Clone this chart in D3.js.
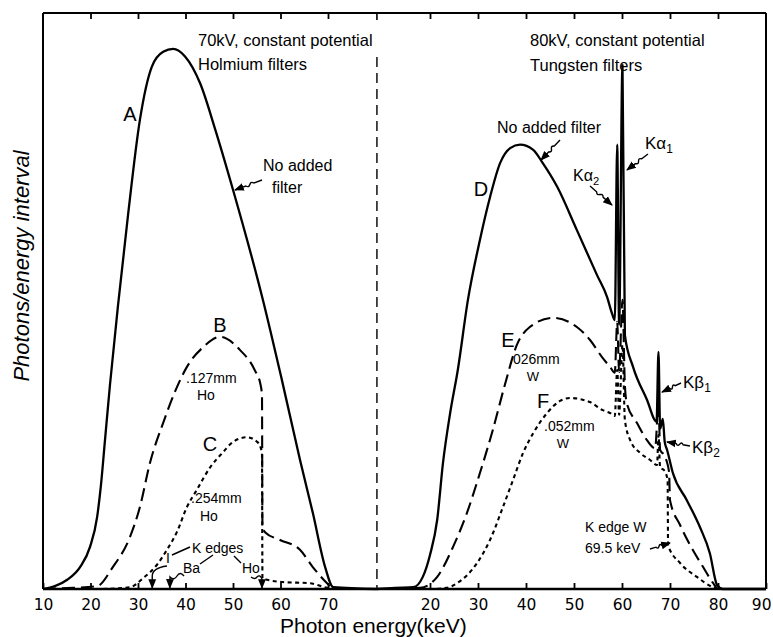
<!DOCTYPE html>
<html><head><meta charset="utf-8">
<script src="https://cdn.jsdelivr.net/npm/d3@7"></script>
<style>body{margin:0;background:#fff}svg{display:block}text{fill:#000}</style>
</head><body><svg id="c" width="773" height="637"></svg>
<script>
// ---------------- data ----------------
const leftTicks = [10, 20, 30, 40, 50, 60, 70];
const rightTicks = [20, 30, 40, 50, 60, 70, 80, 90];
const leftTopTicks = [20, 30, 40, 50, 60, 70];
const rightTopTicks = [20, 30, 40, 50, 60, 70, 80];
const leftPanelMax = 80.3;   // keV where left panel ends (dashed divider)
const rightPanelMin = 8.96;  // keV where right panel starts

// Left panel: 70 kV, holmium filters
const aKeV = [10, 12.5, 15.1, 17.8, 19.9, 21.4, 22.2, 23.05, 24.1, 25.8, 27.9, 30.4, 32.9, 35.3, 37.4, 39.9, 43.1, 46.2, 50.0, 56.3, 60.3, 64.1, 66.8, 69.4, 71.1, 80.3];
const aVal = [0, 0.5, 1.6, 3.8, 7.3, 12.5, 18.0, 25.8, 35.4, 49.2, 64.8, 81.3, 90.5, 93.1, 93.6, 92.3, 87.6, 79.8, 69.2, 50.1, 36.2, 22.4, 13.2, 3.8, 0.3, 0];

const bKeV = [10, 16.3, 21.4, 24.7, 28.3, 30.4, 32.5, 35.3, 38.2, 40.3, 43.7, 47.3, 51.5, 54.6, 55.8, 56.1, 56.2, 56.8, 59.9, 64.1, 66.8, 69.8, 71.1, 80.3];
const bVal = [0, 0.2, 0.5, 3.8, 9.0, 14.2, 21.8, 28.8, 35.0, 38.5, 41.9, 43.7, 41.4, 37.9, 35.4, 33.6, 10.7, 9.8, 8.5, 6.8, 3.8, 1.0, 0, 0];

const cKeV = [10, 21.4, 28.3, 31.1, 34.0, 36.1, 38.2, 40.3, 42.4, 45.2, 47.9, 50.0, 52.9, 55.1, 56.1, 56.2, 57.2, 60.5, 66.2, 69.8, 71.1, 80.3];
const cVal = [0, 0, 0.3, 1.9, 4.2, 6.8, 9.9, 14.2, 17.2, 21.1, 23.7, 25.5, 26.3, 25.5, 23.7, 1.9, 1.6, 1.2, 1.0, 0.2, 0, 0];

// Right panel: 80 kV, tungsten filters
const dKeV = [8.96, 12.7, 16.5, 18.5, 20.0, 21.5, 22.7, 24.2, 25.8, 27.9, 30.4, 32.5, 34.6, 36.7, 38.75, 41.5, 43.5, 46.5, 50.6, 54.8, 56.9, 57.9, 58.5, 59.0, 59.4, 60.1, 60.6, 62.3, 65.2, 67.2, 67.6, 67.95, 68.5, 68.9, 69.4, 70.6, 73.5, 76.25, 78.3, 79.8, 81.0, 90];
const dVal = [0, 0.2, 0.3, 2.1, 5.9, 12.0, 21.8, 30.5, 38.0, 50.1, 60.5, 67.9, 73.8, 76.4, 77.0, 76.1, 73.8, 69.7, 62.2, 54.4, 50.6, 47.8, 46.6, 77.0, 45.8, 90.8, 44.0, 38.5, 32.8, 29.0, 41.1, 27.8, 29.5, 25.5, 24.1, 20.1, 15.4, 10.7, 6.2, 0.7, 0, 0];

const eKeV = [8.96, 17.9, 21.5, 24.8, 27.7, 30.4, 33.1, 35.6, 38.1, 40.8, 45.6, 50.6, 53.3, 56.0, 57.5, 58.5, 59.0, 59.4, 60.1, 60.6, 61.0, 63.1, 65.2, 66.9, 67.6, 67.95, 68.75, 69.8, 70.0, 72.1, 74.2, 76.9, 79.0, 80.0, 90];
const eVal = [0, 0.2, 2.1, 7.3, 13.2, 20.1, 27.6, 35.4, 42.3, 45.4, 47.0, 45.4, 43.2, 40.0, 38.5, 37.5, 46.3, 37.6, 50.1, 35.4, 32.2, 28.8, 25.8, 24.4, 31.9, 24.1, 23.2, 20.3, 15.4, 11.1, 7.6, 3.8, 1.0, 0, 0];

const fKeV = [8.96, 20.0, 23.5, 25.6, 29.8, 32.5, 35.2, 37.3, 39.4, 41.5, 44.4, 47.1, 49.2, 53.3, 56.0, 57.5, 58.5, 59.0, 59.4, 60.1, 60.6, 61.7, 63.75, 65.8, 67.3, 67.6, 67.95, 68.75, 69.5, 69.6, 72.1, 75.6, 78.96, 80.0, 90];
const fVal = [0, 0, 0.2, 1.0, 4.5, 8.5, 14.2, 18.9, 23.6, 27.0, 30.5, 32.6, 33.1, 32.4, 31.0, 30.5, 30.0, 38.0, 30.2, 42.3, 29.3, 25.8, 23.6, 22.4, 21.5, 26.7, 21.0, 20.6, 18.9, 7.6, 4.5, 2.1, 0.3, 0, 0];

const kEdgeArrowKeV = [33.0, 36.7, 56.1]; // I, Ba, Ho K-edge markers (left panel)

// ---------------- chart ----------------
const svg = d3.select("#c");
const xL = d3.scaleLinear().domain([10, 70]).range([43, 328]);
const xR = d3.scaleLinear().domain([20, 90]).range([430, 766]);
const y = d3.scaleLinear().domain([0, 100]).range([589, 12]);
const X0 = xL(10), X1 = xR(90), Ytop = 13, Ybot = y(0);
const divX = xL(leftPanelMax);

const defs = svg.append("defs");
defs.append("marker").attr("id", "ah").attr("viewBox", "0 0 10 10").attr("refX", 9).attr("refY", 5)
  .attr("markerWidth", 7).attr("markerHeight", 7).attr("orient", "auto-start-reverse")
  .append("path").attr("d", "M0,1 L10,5 L0,9 z").attr("fill", "#000");

// frame
const frame = svg.append("g").attr("stroke", "#000").attr("fill", "none");
frame.append("line").attr("x1", X0).attr("x2", X0).attr("y1", Ytop).attr("y2", Ybot).attr("stroke-width", 2);
frame.append("line").attr("x1", X0).attr("x2", X1).attr("y1", Ytop).attr("y2", Ytop).attr("stroke-width", 2);
frame.append("line").attr("x1", X1).attr("x2", X1).attr("y1", Ytop).attr("y2", Ybot).attr("stroke-width", 2);
frame.append("line").attr("x1", X0).attr("x2", X1).attr("y1", Ybot).attr("y2", Ybot).attr("stroke-width", 2.4);
frame.append("line").attr("x1", divX).attr("x2", divX).attr("y1", Ytop).attr("y2", Ytop + 7).attr("stroke-width", 1.6);
frame.append("line").attr("x1", divX).attr("x2", divX).attr("y1", 57).attr("y2", Ybot)
  .attr("stroke-width", 1.4).attr("stroke-dasharray", "10,6");

function styleAxis(g) {
  g.select(".domain").remove();
  g.selectAll(".tick line").attr("stroke", "#000").attr("stroke-width", 1.8);
  g.selectAll(".tick text").attr("font-family", "DejaVu Sans, sans-serif").attr("font-size", 15.5).attr("fill", "#000");
}
svg.append("g").attr("transform", `translate(0,${Ybot})`)
  .call(d3.axisBottom(xL).tickValues(leftTicks).tickSize(-6).tickPadding(10)).call(styleAxis);
const gR = svg.append("g").attr("transform", `translate(0,${Ybot})`)
  .call(d3.axisBottom(xR).tickValues(rightTicks).tickSize(-6).tickPadding(10)).call(styleAxis);
gR.selectAll(".tick text").filter(d => d === 90).attr("text-anchor", "end").attr("dx", 5);
svg.append("g").attr("transform", `translate(0,${Ytop})`)
  .call(d3.axisTop(xL).tickValues(leftTopTicks).tickSize(-6).tickFormat("")).call(styleAxis);
svg.append("g").attr("transform", `translate(0,${Ytop})`)
  .call(d3.axisTop(xR).tickValues(rightTopTicks).tickSize(-6).tickFormat("")).call(styleAxis);

// curves
const zip = (k, v) => k.map((d, i) => [d, v[i]]);
const series = [
  { k: aKeV, v: aVal, x: xL, dash: null, w: 2.3 },
  { k: bKeV, v: bVal, x: xL, dash: "13,6", w: 2.1 },
  { k: cKeV, v: cVal, x: xL, dash: "4,3.5", w: 2.1 },
  { k: dKeV, v: dVal, x: xR, dash: null, w: 2.3 },
  { k: eKeV, v: eVal, x: xR, dash: "13,6", w: 2.1 },
  { k: fKeV, v: fVal, x: xR, dash: "4,3.5", w: 2.1 }
];
series.forEach(s => {
  const ln = d3.line().x(d => s.x(d[0])).y(d => y(d[1])).curve(d3.curveMonotoneX);
  svg.append("path").datum(zip(s.k, s.v)).attr("d", ln)
    .attr("fill", "none").attr("stroke", "#000").attr("stroke-width", s.w)
    .attr("stroke-linejoin", "round").attr("stroke-dasharray", s.dash);
});

// ---------------- annotations ----------------
const ann = svg.append("g").attr("font-family", "Liberation Sans, Arial, sans-serif");
function txt(t, x, yy, size, anchor) {
  return ann.append("text").attr("x", x).attr("y", yy).attr("font-size", size)
    .attr("text-anchor", anchor || "start").text(t);
}
function ksub(base, sub, x, yy, size) {
  const t = ann.append("text").attr("x", x).attr("y", yy).attr("font-size", size);
  t.append("tspan").text(base);
  t.append("tspan").attr("dy", 4).attr("font-size", size * 0.7).text(sub);
}
// left panel
txt("70kV, constant potential", 198, 46, 16.5);
txt("Holmium filters", 198, 70, 16.5);
txt("A", 130, 121, 20, "middle");
txt("No added", 263, 171, 16);
txt("filter", 272, 193, 16);
txt("B", 220, 332, 20, "middle");
txt(".127mm", 186, 383, 14);
txt("Ho", 197, 400, 14);
txt("C", 210, 451, 20, "middle");
txt(".254mm", 191, 503, 14);
txt("Ho", 200, 521, 14);
txt("K edges", 192, 553, 14);
txt("I", 168, 563, 14, "middle");
txt("Ba", 183, 573, 14);
txt("Ho", 242, 573, 14);
// right panel
txt("80kV, constant potential", 530, 46, 16.5);
txt("Tungsten filters", 530, 71, 16.5);
txt("No added filter", 497, 133, 16);
txt("D", 481, 196, 20, "middle");
ksub("Kα", "1", 645, 149, 17);
ksub("Kα", "2", 573, 181, 16);
txt("E", 508, 347, 20, "middle");
txt(".026mm", 509, 364, 14);
txt("W", 533, 381, 13, "middle");
txt("F", 543, 408, 20, "middle");
txt(".052mm", 544, 431, 14);
txt("W", 563, 448, 13, "middle");
ksub("Kβ", "1", 683, 388, 17);
ksub("Kβ", "2", 692, 453, 17);
txt("K edge W", 585, 532, 14);
txt("69.5 keV", 585, 553, 14);
// axis titles
txt("Photon energy(keV)", 280, 633, 21);
ann.append("text").attr("transform", "translate(29,266) rotate(-90)").attr("text-anchor", "middle")
  .attr("font-size", 22).attr("font-style", "italic").text("Photons/energy interval");

// leaders (squiggle arrows)
const lead = svg.append("g").attr("fill", "none").attr("stroke", "#000").attr("stroke-width", 1.4);
function squiggle(x1, y1, x2, y2, arrow) {
  const dx = x2 - x1, dy = y2 - y1, L = Math.hypot(dx, dy), nx = -dy / L * 5, ny = dx / L * 5;
  const p = `M${x1},${y1} L${x1 + dx * 0.3},${y1 + dy * 0.3} C${x1 + dx * 0.45 + nx},${y1 + dy * 0.45 + ny} ${x1 + dx * 0.45 - nx},${y1 + dy * 0.45 - ny} ${x1 + dx * 0.6},${y1 + dy * 0.6} L${x2},${y2}`;
  const e = lead.append("path").attr("d", p);
  if (arrow !== false) e.attr("marker-end", "url(#ah)");
}
squiggle(262, 180, 235, 190);
squiggle(560, 140, 541, 160);
squiggle(648, 154, 627, 170);
squiggle(590, 186, 612, 205);
squiggle(681, 383, 662, 392);
squiggle(690, 446, 667, 442);
squiggle(650, 549, 670, 543);
// K-edge leaders
lead.append("path").attr("d", "M172,555 L190,547");
lead.append("path").attr("d", "M200,564 L213,555");
lead.append("path").attr("d", "M241,563 L234,556");
const xa = kEdgeArrowKeV.map(k => xL(k));
lead.append("path").attr("d", `M167,566 Q${xa[0]},568 ${xa[0]},576 L${xa[0]},${Ybot - 1}`).attr("marker-end", "url(#ah)");
lead.append("path").attr("d", `M184,576 q-4,-5 -7,0 q-3,5 -7,1 L${xa[1]},${Ybot - 1}`).attr("marker-end", "url(#ah)");
lead.append("path").attr("d", `M251,577 q4,3 6,0 q3,-3 5,2 L${xa[2]},${Ybot - 1}`).attr("marker-end", "url(#ah)");
</script></body></html>
